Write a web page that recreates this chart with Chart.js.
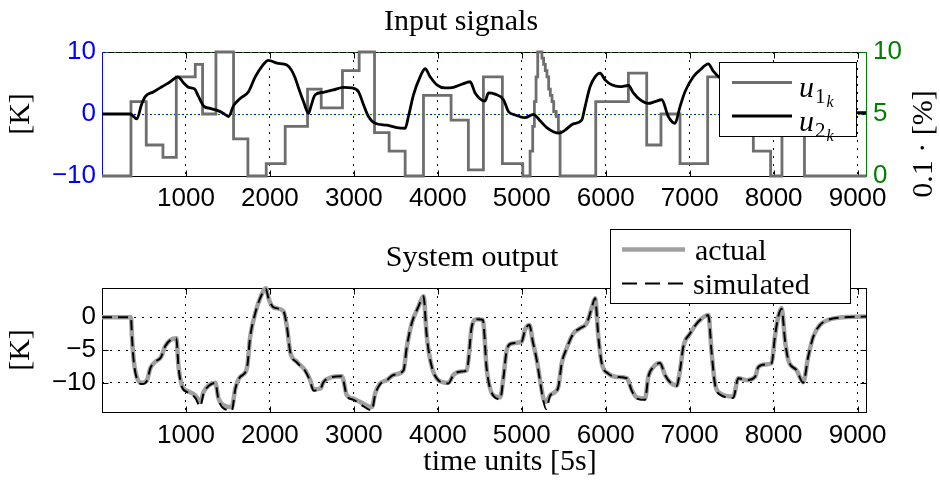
<!DOCTYPE html>
<html>
<head>
<meta charset="utf-8">
<script src="https://cdn.jsdelivr.net/npm/chart.js@4.4.1/dist/chart.umd.min.js"></script>
<style>
  html, body { margin: 0; padding: 0; background: #ffffff; }
  #wrap { position: relative; width: 940px; height: 481px; overflow: hidden; background: #fff; }
  canvas { position: absolute; left: 0; top: 0; }
</style>
</head>
<body>
<div id="wrap">
  <canvas id="topChart" width="940" height="481"></canvas>
  <canvas id="botChart" width="940" height="481"></canvas>
</div>
<script>
// ---------------- data ----------------
const xTicks = [1000, 2000, 3000, 4000, 5000, 6000, 7000, 8000, 9000];
const leftTicks = [-10, 0, 10];
const rightTicks = [0, 5, 10];
const outTicks = [-10, -5, 0];

// u1 (step signal, right axis 0..10) : change points
const u1T = [0, 345, 527, 726, 885, 1111, 1198, 1357, 1567, 1738, 1956, 2182, 2448, 2611, 2864, 3063,
  3246, 3420, 3611, 3829, 4158, 4364, 4543, 4769, 5012, 5099, 5130, 5150, 5170, 5190, 5240, 5260,
  5280, 5300, 5320, 5340, 5360, 5380, 5410, 5436, 5456, 5881, 6270, 6488, 6658, 6885, 7214, 7758,
  7964, 8099, 8367, 9100];
const u1V = [0, 6, 2.5, 1.5, 8, 9, 5, 10, 3, 0, 1, 4, 7, 5.5, 8.5, 10,
  3.5, 2, 0, 6.5, 4.5, 0.5, 8, 1, 0, 2, 4, 6, 8, 10, 9.5, 9,
  8.5, 8, 7, 6.5, 6, 5.2, 4.8, 3.6, 0, 6, 8.3, 2.5, 5, 1, 8, 2,
  0, 6, 0, 0];

// u2 (left axis, K)
const u2T = [0, 337, 416, 470, 515, 615, 714, 813, 904, 972, 1031, 1102, 1150, 1210, 1289, 1388, 1448,
  1507, 1567, 1646, 1745, 1825, 1905, 1983, 2083, 2202, 2260, 2301, 2341, 2400, 2460, 2488, 2539, 2638,
  2757, 2876, 2976, 3055, 3115, 3174, 3254, 3393, 3512, 3611, 3650, 3710, 3789, 3849, 3908, 3988, 4087,
  4186, 4286, 4385, 4444, 4563, 4603, 4682, 4782, 4841, 4920, 5039, 5138, 5218, 5298, 5376, 5444, 5516,
  5614, 5714, 5754, 5813, 5873, 5932, 5992, 6071, 6170, 6270, 6329, 6408, 6507, 6587, 6667, 6745, 6825,
  6885, 6944, 7043, 7123, 7222, 7281, 7361, 7500, 7650, 7800, 7950, 8100, 8250, 8450, 8650, 9100];
const u2V = [0, 0, -0.8, 1.5, 2.8, 3.6, 4.4, 5.2, 6.0, 5.0, 4.3, 4.05, 2.8, 1.3, 0.9, 0.5, 0.1,
  -0.4, 1.35, 2.5, 3.6, 6.0, 7.7, 8.65, 8.2, 7.9, 7.0, 5.8, 4.2, 2.0, 0.1, 1.2, 3.1, 3.5,
  3.9, 4.3, 4.2, 3.6, 1.5, -0.4, -1.5, -1.8, -2.2, -2.3, -0.4, 3.1, 6.0, 7.3, 6.0, 4.7, 4.2,
  4.3, 4.8, 5.2, 3.4, 2.1, 3.4, 3.2, 2.3, 0.4, -0.15, -0.6, -0.05, -1.1, -2.2, -2.85, -3.1, -2.6,
  -1.6, -1.0, 1.2, 4.4, 6.0, 6.6, 5.5, 4.7, 4.4, 4.6, 3.4, 2.3, 1.7, 2.0, 2.3, -0.4, -1.5,
  1.2, 3.6, 6.0, 7.1, 8.1, 6.9, 5.8, 4.5, 3.0, 1.0, 2.5, 4.5, 2.0, 0.8, 0.3, 0.2];

// system output
const outT = [0, 345, 357, 377, 416, 476, 536, 575, 635, 702, 754, 813, 885, 912, 952, 1012, 1111, 1170,
  1210, 1269, 1349, 1388, 1448, 1547, 1587, 1646, 1726, 1765, 1825, 1884, 1952, 1983, 2043, 2162, 2202,
  2242, 2321, 2420, 2480, 2519, 2599, 2638, 2718, 2857, 2917, 2995, 3115, 3214, 3254, 3313, 3393, 3471,
  3591, 3631, 3690, 3769, 3829, 3869, 3929, 4007, 4126, 4186, 4265, 4345, 4405, 4464, 4536, 4583, 4662,
  4742, 4782, 4821, 4881, 5000, 5039, 5091, 5131, 5179, 5218, 5258, 5289, 5337, 5396, 5436, 5476, 5536,
  5614, 5694, 5774, 5833, 5873, 5912, 5952, 6031, 6131, 6250, 6310, 6369, 6468, 6507, 6567, 6646, 6706,
  6765, 6845, 6885, 6924, 7004, 7102, 7222, 7262, 7301, 7361, 7519, 7579, 7679, 7778, 7817, 7897, 7976,
  8015, 8055, 8095, 8135, 8174, 8274, 8352, 8412, 8471, 8551, 8650, 8789, 9100];
const actualV = [0, 0, -3.0, -6.5, -9.2, -10.0, -9.6, -7.8, -6.8, -6.1, -4.4, -3.5, -3.2, -7.6, -10.4, -11.2, -11.9, -12.9,
  -11.4, -10.4, -10.0, -12.4, -13.4, -13.7, -10.9, -9.1, -7.8, -3.0, 0.6, 2.9, 4.4, 2.9, 1.5, 0.9, -1.4,
  -5.3, -6.8, -8.1, -9.6, -11.0, -10.9, -9.9, -9.2, -9.0, -11.9, -12.4, -13.2, -13.7, -11.6, -10.1, -9.6, -8.8,
  -8.1, -4.5, -0.9, 1.6, 3.2, -3.0, -7.6, -9.6, -10.0, -8.8, -8.3, -8.1, -1.4, -0.3, -0.4, -8.0, -11.9,
  -12.2, -9.1, -5.0, -4.0, -3.7, -1.9, -1.2, -3.7, -6.5, -9.6, -12.4, -12.9, -11.9, -11.4, -10.6, -7.0, -4.7,
  -2.5, -1.7, -0.9, 1.4, 2.9, -3.0, -7.0, -8.6, -9.1, -9.3, -11.1, -12.2, -12.4, -9.1, -7.6, -7.0, -8.8,
  -9.9, -10.4, -8.1, -4.5, -2.5, -0.7, 0.35, -5.5, -10.1, -11.6, -12.1, -9.3, -9.6, -9.1, -7.6, -7.2, -7.0,
  -3.0, 0.1, 1.4, -3.5, -6.5, -8.1, -9.9, -6.0, -3.0, -1.2, -0.4, -0.06, 0.1];
const simV = [0, 0, -3.0, -6.6, -9.4, -10.2, -9.7, -7.8, -6.8, -6.1, -4.4, -3.5, -3.2, -7.7, -10.6, -11.4, -12.3, -13.6,
  -11.6, -10.5, -10.0, -12.6, -13.9, -14.2, -11.0, -9.1, -7.8, -3.0, 0.6, 2.9, 4.3, 2.9, 1.5, 0.9, -1.4,
  -5.3, -6.9, -8.2, -9.8, -11.2, -11.0, -9.9, -9.2, -9.0, -12.0, -12.6, -13.6, -14.2, -11.8, -10.2, -9.6, -8.8,
  -8.1, -4.5, -0.9, 1.6, 3.2, -3.0, -7.6, -9.6, -10.1, -8.8, -8.3, -8.1, -1.4, -0.3, -0.4, -8.0, -12.0,
  -12.5, -9.2, -5.0, -4.0, -3.7, -1.9, -1.2, -3.7, -6.6, -9.8, -12.8, -14.0, -12.0, -11.4, -10.6, -7.0, -4.7,
  -2.5, -1.7, -0.9, 1.4, 2.9, -3.0, -7.0, -8.6, -9.1, -9.3, -11.2, -12.4, -12.6, -9.1, -7.6, -7.0, -8.8,
  -9.9, -10.5, -8.1, -4.5, -2.5, -0.7, 0.3, -5.5, -10.2, -11.8, -12.3, -9.3, -9.6, -9.1, -7.6, -7.2, -7.0,
  -3.0, 0.1, 1.3, -3.5, -6.5, -8.1, -10.0, -6.0, -3.0, -1.2, -0.4, -0.06, 0.1];

// ---------------- styling ----------------
const SANS = '"Liberation Sans", Arial, Helvetica, sans-serif';
const SERIF = '"Liberation Serif", "Times New Roman", serif';
const BLUE = '#0000ff';
const GREEN = '#008000';
const U1C = '#6e6e6e';
const ACTC = '#a0a0a0';
const X_MAX = 9100;
const tickFont = { family: SANS, size: 26 };
const fmt = v => String(v).replace('-', '\u2212');

function pts(t, v) { return t.map((x, i) => ({ x: x, y: v[i] })); }
function seg(ctx, x1, y1, x2, y2, color, w) {
  ctx.beginPath(); ctx.strokeStyle = color; ctx.lineWidth = w || 1;
  ctx.moveTo(x1, y1); ctx.lineTo(x2, y2); ctx.stroke();
}
const px = v => Math.round(v) + 0.5;

function drawRotated(ctx, text, cx, cy, font) {
  ctx.save();
  ctx.translate(cx, cy); ctx.rotate(-Math.PI / 2);
  ctx.font = font; ctx.fillStyle = '#000'; ctx.textAlign = 'center'; ctx.textBaseline = 'middle';
  ctx.fillText(text, 0, 0);
  ctx.restore();
}

// ---------------- top chart ----------------
const topPlugin = {
  id: 'topDecor',
  beforeDraw(chart) {
    const { ctx, chartArea: a, scales } = chart;
    ctx.save();
    const L = px(a.left), R = px(a.right), T = px(a.top), B = px(a.bottom);
    seg(ctx, L, T, R, T, '#000'); seg(ctx, L, B, R, B, '#000');
    xTicks.forEach(v => {
      const x = px(scales.x.getPixelForValue(v));
      seg(ctx, x, B, x, B - 6, '#000'); seg(ctx, x, T, x, T + 6, '#000');
    });
    leftTicks.forEach(v => { const y = px(scales.y.getPixelForValue(v)); seg(ctx, L, y, L + 6, y, BLUE); });
    rightTicks.forEach(v => { const y = px(scales.y2.getPixelForValue(v)); seg(ctx, R - 6, y, R, y, GREEN); });
    seg(ctx, L, T, L, B, BLUE); seg(ctx, R, T, R, B, GREEN);
    ctx.restore();
  },
  afterDraw(chart) {
    const { ctx } = chart;
    ctx.save();
    // title
    ctx.font = '30px ' + SERIF; ctx.fillStyle = '#000'; ctx.textAlign = 'center'; ctx.textBaseline = 'alphabetic';
    ctx.fillText('Input signals', 461, 30);
    drawRotated(ctx, '[K]', 21, 114, '30px ' + SERIF);
    drawRotated(ctx, '0.1 \u00b7 [%]', 924, 144, '30px ' + SERIF);
    // legend
    ctx.fillStyle = '#fff'; ctx.fillRect(719.5, 62.5, 137, 74);
    ctx.strokeStyle = '#000'; ctx.lineWidth = 1; ctx.strokeRect(719.5, 62.5, 137, 74);
    seg(ctx, 732, 82.5, 792, 82.5, U1C, 3);
    seg(ctx, 732, 116, 792, 116, '#000', 3);
    [[97, '1'], [131, '2']].forEach(([by, n]) => {
      let x = 799;
      ctx.fillStyle = '#000'; ctx.textAlign = 'left'; ctx.textBaseline = 'alphabetic';
      ctx.font = 'italic 30px ' + SERIF; ctx.fillText('u', x, by); x += ctx.measureText('u').width + 1;
      ctx.font = '21px ' + SERIF; ctx.fillText(n, x, by + 6); x += ctx.measureText(n).width + 1;
      ctx.font = 'italic 16px ' + SERIF; ctx.fillText('k', x, by + 10);
    });
    ctx.restore();
  }
};

new Chart(document.getElementById('topChart'), {
  type: 'line',
  data: {
    datasets: [
      { label: 'u2', data: pts(u2T, u2V), yAxisID: 'y', borderColor: '#000', borderWidth: 2.8,
        pointRadius: 0, cubicInterpolationMode: 'monotone', clip: 3 },
      { label: 'u1', data: pts(u1T, u1V), yAxisID: 'y2', borderColor: U1C, borderWidth: 2.8,
        pointRadius: 0, stepped: 'before', clip: 3 }
    ]
  },
  options: {
    responsive: false, animation: false, devicePixelRatio: 1,
    layout: { padding: { top: 52, bottom: 265, left: 0, right: 0 } },
    plugins: { legend: { display: false }, title: { display: false }, tooltip: { enabled: false } },
    scales: {
      x: {
        type: 'linear', min: 0, max: X_MAX, position: 'bottom',
        afterFit: s => { s.height = 40; },
        afterBuildTicks: s => { s.ticks = xTicks.map(v => ({ value: v })); },
        ticks: { font: tickFont, color: '#000', padding: 7, maxRotation: 0, autoSkip: false, callback: v => fmt(v) },
        grid: { drawTicks: false, color: '#000', lineWidth: 1 },
        border: { display: false, dash: [2, 6] }
      },
      y: {
        type: 'linear', min: -10, max: 10, position: 'left',
        afterFit: s => { s.width = 102; },
        afterBuildTicks: s => { s.ticks = leftTicks.map(v => ({ value: v })); },
        ticks: { font: tickFont, color: BLUE, padding: 6, callback: v => fmt(v) },
        grid: { drawTicks: false, color: c => (c.tick && c.tick.value === 0 ? BLUE : 'rgba(0,0,0,0)'), lineWidth: 1 },
        border: { display: false, dash: [2, 6] }
      },
      y2: {
        type: 'linear', min: 0, max: 10, position: 'right',
        afterFit: s => { s.width = 74; },
        afterBuildTicks: s => { s.ticks = rightTicks.map(v => ({ value: v })); },
        ticks: { font: tickFont, color: GREEN, padding: 7, callback: v => fmt(v) },
        grid: { drawTicks: false, color: c => (c.tick && c.tick.value !== 0 ? GREEN : 'rgba(0,0,0,0)'), lineWidth: 1 },
        border: { display: false, dash: [2, 6], dashOffset: 4 }
      }
    }
  },
  plugins: [topPlugin]
});

// ---------------- bottom chart ----------------
const botPlugin = {
  id: 'botDecor',
  beforeDraw(chart) {
    const { ctx, chartArea: a, scales } = chart;
    ctx.save();
    const L = px(a.left), R = px(a.right), T = px(a.top), B = px(a.bottom);
    xTicks.forEach(v => {
      const x = px(scales.x.getPixelForValue(v));
      seg(ctx, x, B, x, B - 6, '#000'); seg(ctx, x, T, x, T + 6, '#000');
    });
    outTicks.forEach(v => {
      const y = px(scales.y.getPixelForValue(v));
      seg(ctx, L, y, L + 6, y, '#000'); seg(ctx, R - 6, y, R, y, '#000');
    });
    ctx.strokeStyle = '#000'; ctx.lineWidth = 1; ctx.strokeRect(L, T, R - L, B - T);
    ctx.restore();
  },
  afterDraw(chart) {
    const { ctx } = chart;
    ctx.save();
    ctx.font = '30px ' + SERIF; ctx.fillStyle = '#000'; ctx.textAlign = 'center'; ctx.textBaseline = 'alphabetic';
    ctx.fillText('System output', 472, 266);
    ctx.fillText('time units [5s]', 510, 470);
    drawRotated(ctx, '[K]', 21, 350, '30px ' + SERIF);
    // legend
    ctx.fillStyle = '#fff'; ctx.fillRect(610.5, 229.5, 240, 74);
    ctx.strokeStyle = '#000'; ctx.lineWidth = 1; ctx.strokeRect(610.5, 229.5, 240, 74);
    seg(ctx, 622, 249.5, 685, 249.5, ACTC, 4.5);
    ctx.save(); ctx.setLineDash([15, 8]); seg(ctx, 622, 283.5, 684, 283.5, '#000', 2); ctx.restore();
    ctx.font = '30px ' + SERIF; ctx.fillStyle = '#000'; ctx.textAlign = 'left';
    ctx.fillText('actual', 695, 260);
    ctx.fillText('simulated', 693, 294);
    ctx.restore();
  }
};

new Chart(document.getElementById('botChart'), {
  type: 'line',
  data: {
    datasets: [
      { label: 'simulated', data: pts(outT, simV), borderColor: '#000', borderWidth: 2, borderDash: [10, 6],
        pointRadius: 0, cubicInterpolationMode: 'monotone', clip: 3 },
      { label: 'actual', data: pts(outT, actualV), borderColor: ACTC, borderWidth: 4.5,
        pointRadius: 0, cubicInterpolationMode: 'monotone', clip: 3 }
    ]
  },
  options: {
    responsive: false, animation: false, devicePixelRatio: 1,
    layout: { padding: { top: 288, bottom: 29, left: 0, right: 74 } },
    plugins: { legend: { display: false }, title: { display: false }, tooltip: { enabled: false } },
    scales: {
      x: {
        type: 'linear', min: 0, max: X_MAX, position: 'bottom',
        afterFit: s => { s.height = 40; },
        afterBuildTicks: s => { s.ticks = xTicks.map(v => ({ value: v })); },
        ticks: { font: tickFont, color: '#000', padding: 8, maxRotation: 0, autoSkip: false, callback: v => fmt(v) },
        grid: { drawTicks: false, color: '#000', lineWidth: 1 },
        border: { display: false, dash: [2, 6] }
      },
      y: {
        type: 'linear', min: -14.45, max: 4.45, position: 'left',
        afterFit: s => { s.width = 102; },
        afterBuildTicks: s => { s.ticks = outTicks.map(v => ({ value: v })); },
        ticks: { font: tickFont, color: '#000', padding: 6, callback: v => fmt(v) },
        grid: { drawTicks: false, color: '#000', lineWidth: 1 },
        border: { display: false, dash: [2, 6] }
      }
    }
  },
  plugins: [botPlugin]
});
</script>
</body>
</html>
